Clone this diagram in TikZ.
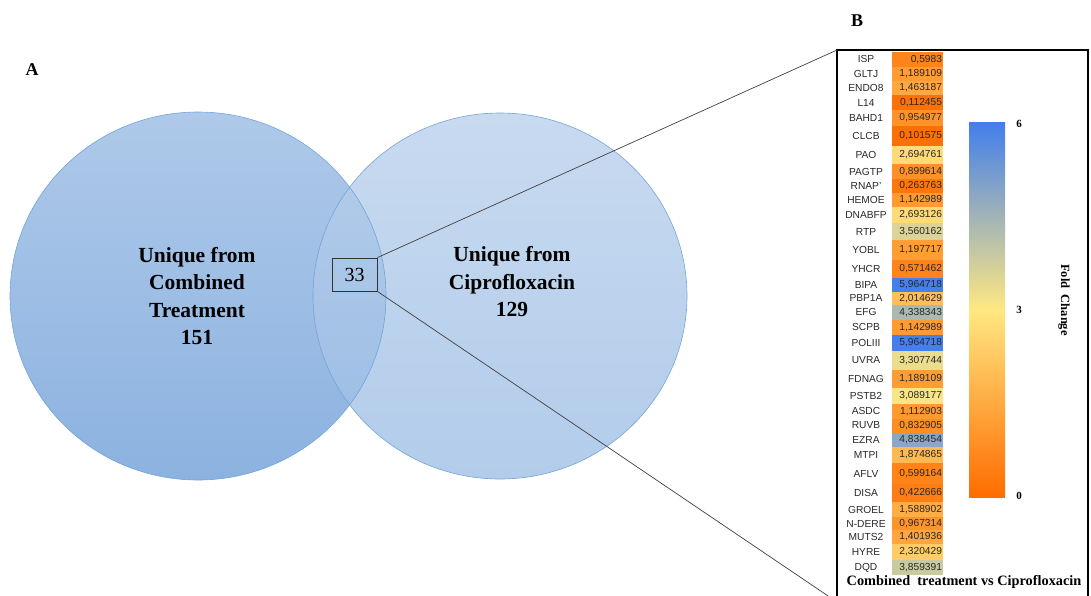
\documentclass[tikz,border=0pt]{standalone}
\usepackage{fontspec}
\setmainfont{Liberation Serif}
\setsansfont{Liberation Sans}
\usetikzlibrary{shapes.geometric}
\definecolor{hmO}{RGB}{255,108,0}
\definecolor{hmY}{RGB}{255,232,130}
\definecolor{hmB}{RGB}{66,126,236}
\definecolor{vLtop}{RGB}{174,201,233}
\definecolor{vLbot}{RGB}{140,178,224}
\definecolor{vRtop}{RGB}{200,218,240}
\definecolor{vRbot}{RGB}{178,204,234}
\definecolor{vEdge}{RGB}{115,165,218}
\definecolor{labgray}{RGB}{40,40,40}
\newcommand\hmrow[6]{%
  \pgfmathsetmacro\hmnum{#4}%
  \ifdim\hmnum pt<3pt
    \pgfmathsetmacro\hmp{#4/3*100}\colorlet{hmc}{hmY!\hmp!hmO}%
  \else
    \pgfmathsetmacro\hmp{(#4-3)/3*100}\colorlet{hmc}{hmB!\hmp!hmY}%
  \fi
  \node[cell,fill=hmc,minimum height={(#6-#5)*1pt}] (c#1) at (917.5,{(#5+#6)/2}) {#3};
  \node[lab] (l#1) at (866,{(#5+#6)/2}) {#2};
}
\begin{document}
\begin{tikzpicture}[x=1pt,y=-1pt,
  cell/.style={rectangle,inner sep=0pt,minimum width=51pt,text width=49pt,align=right,
    font=\sffamily\fontsize{10.2}{10}\selectfont,text=labgray},
  lab/.style={inner sep=0pt,font=\sffamily\fontsize{10.2}{10}\selectfont,text=labgray},
  venntxt/.style={align=center,font=\bfseries\fontsize{21.5}{27.5}\selectfont},
  panel/.style={font=\bfseries\fontsize{18}{18}\selectfont},
  tick/.style={font=\bfseries\fontsize{11}{11}\selectfont},
  conn/.style={draw=black!75,line width=0.7pt}]
\useasboundingbox (0,0) rectangle (1091,595);
\begin{scope}
\clip (0,0) rectangle (1091,595);
% Venn
\node[ellipse,minimum width=374pt,minimum height=366pt,top color=vRtop,bottom color=vRbot] (R) at (500,296) {};
\node[ellipse,minimum width=376pt,minimum height=368pt,top color=vLtop,bottom color=vLbot] (L) at (198,296) {};
\begin{scope}
\clip (500,296) ellipse [x radius=187pt,y radius=183pt];
\shade[top color=vRtop,bottom color=vRbot,opacity=0.35] (198,296) ellipse [x radius=188pt,y radius=184pt];
\end{scope}
\draw[vEdge,line width=0.6pt] (L.center) ellipse [x radius=188pt,y radius=184pt];
\draw[vEdge,line width=0.6pt] (R.center) ellipse [x radius=187pt,y radius=183pt];
\node[venntxt] (tL) at (197,296) {Unique from\\Combined\\Treatment\\151};
\node[venntxt] (tR) at (512,282) {Unique from\\Ciprofloxacin\\129};
\node[draw=black!80,line width=0.8pt,minimum width=45pt,minimum height=33pt,inner sep=0pt,font=\fontsize{20}{20}\selectfont] (box) at (354.5,274.5) {33};
\node[panel] (A) at (32,70) {A};
\node[panel] (B) at (857,21) {B};
% frame
\coordinate (ftl) at (837,50);
\coordinate (fbl) at (837,602);
\draw[black,line width=1.4pt] (837,610) -- (ftl) -- (1088,50) -- (1088,610);
\draw[conn] (box.north east) -- (ftl);
\draw[conn] (box.south east) -- (fbl);
% heatmap
\hmrow{1}{ISP}{0,5983}{0.5983}{52}{66.5}
\hmrow{2}{GLTJ}{1,189109}{1.189109}{66.5}{80.5}
\hmrow{3}{ENDO8}{1,463187}{1.463187}{80.5}{95}
\hmrow{4}{L14}{0,112455}{0.112455}{95}{110}
\hmrow{5}{BAHD1}{0,954977}{0.954977}{110}{126}
\hmrow{6}{CLCB}{0,101575}{0.101575}{126}{146}
\hmrow{7}{PAO}{2,694761}{2.694761}{146}{164}
\hmrow{8}{PAGTP}{0,899614}{0.899614}{164}{179}
\hmrow{9}{RNAP'}{0,263763}{0.263763}{179}{193}
\hmrow{10}{HEMOE}{1,142989}{1.142989}{193}{207}
\hmrow{11}{DNABFP}{2,693126}{2.693126}{207}{223}
\hmrow{12}{RTP}{3,560162}{3.560162}{223}{240}
\hmrow{13}{YOBL}{1,197717}{1.197717}{240}{260}
\hmrow{14}{YHCR}{0,571462}{0.571462}{260}{278}
\hmrow{15}{BIPA}{5,964718}{5.964718}{278}{291.5}
\hmrow{16}{PBP1A}{2,014629}{2.014629}{291.5}{305}
\hmrow{17}{EFG}{4,338343}{4.338343}{305}{319.5}
\hmrow{18}{SCPB}{1,142989}{1.142989}{319.5}{335}
\hmrow{19}{POLIII}{5,964718}{5.964718}{335}{351}
\hmrow{20}{UVRA}{3,307744}{3.307744}{351}{370}
\hmrow{21}{FDNAG}{1,189109}{1.189109}{370}{388}
\hmrow{22}{PSTB2}{3,089177}{3.089177}{388}{404}
\hmrow{23}{ASDC}{1,112903}{1.112903}{404}{418.5}
\hmrow{24}{RUVB}{0,832905}{0.832905}{418.5}{432.5}
\hmrow{25}{EZRA}{4,838454}{4.838454}{432.5}{447}
\hmrow{26}{MTPI}{1,874865}{1.874865}{447}{463}
\hmrow{27}{AFLV}{0,599164}{0.599164}{463}{484}
\hmrow{28}{DISA}{0,422666}{0.422666}{484}{502}
\hmrow{29}{GROEL}{1,588902}{1.588902}{502}{517}
\hmrow{30}{N-DERE}{0,967314}{0.967314}{517}{530}
\hmrow{31}{MUTS2}{1,401936}{1.401936}{530}{544}
\hmrow{32}{HYRE}{2,320429}{2.320429}{544}{560}
\hmrow{33}{DQD}{3,859391}{3.859391}{560}{575}
% colour bar
\shade[top color=hmB,bottom color=hmO,middle color=hmY] (969,122) rectangle (1005,497);
\node[tick] (t6) at (1019,124) {6};
\node[tick] (t3) at (1019,310) {3};
\node[tick] (t0) at (1019,496) {0};
\node[rotate=-90,font=\bfseries\fontsize{12.5}{12}\selectfont] (fc) at (1064,300) {Fold\ \ Change};
\node[font=\bfseries\fontsize{14.3}{14}\selectfont] (xl) at (964,582) {Combined\ \ treatment vs Ciprofloxacin};
\end{scope}
\end{tikzpicture}
\end{document}
